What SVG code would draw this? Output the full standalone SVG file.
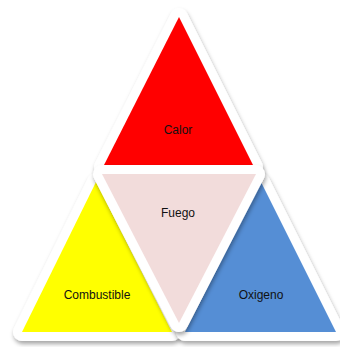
<svg xmlns="http://www.w3.org/2000/svg" width="340" height="347" viewBox="0 0 340 347">
<defs>
<filter id="sh" x="-20%" y="-20%" width="140%" height="140%">
<feDropShadow dx="1" dy="3" stdDeviation="2" flood-color="#000" flood-opacity="0.35"/>
</filter>
</defs>
<style>
.border{fill:#fff;stroke:#fff;stroke-width:18;stroke-linejoin:round;filter:url(#sh)}
.lbl{font-family:"Liberation Sans",Arial,sans-serif;font-size:12px;fill:#111;text-anchor:middle}
</style>
<rect width="340" height="347" fill="#fff"/>
<g id="calor">
<polygon class="border" points="179,17 103,167 254,167"/>
<polygon points="179,17 103,167 254,167" fill="#ff0000"/>
<text class="lbl" x="178" y="134">Calor</text>
</g>
<g id="combustible">
<polygon class="border" points="96,182 22,332 172,332"/>
<polygon points="96,182 22,332 172,332" fill="#ffff00"/>
<text class="lbl" x="97" y="299">Combustible</text>
</g>
<g id="oxigeno">
<polygon class="border" points="261,182 185,332 336,332"/>
<polygon points="261,182 185,332 336,332" fill="#558ed5"/>
<text class="lbl" x="261" y="299">Oxigeno</text>
</g>
<g id="fuego">
<polygon class="border" points="102,174 256,174 179,323"/>
<polygon points="102,174 256,174 179,323" fill="#f2dcdb"/>
<text class="lbl" x="178" y="217">Fuego</text>
</g>
<g id="connectors"></g>
</svg>
